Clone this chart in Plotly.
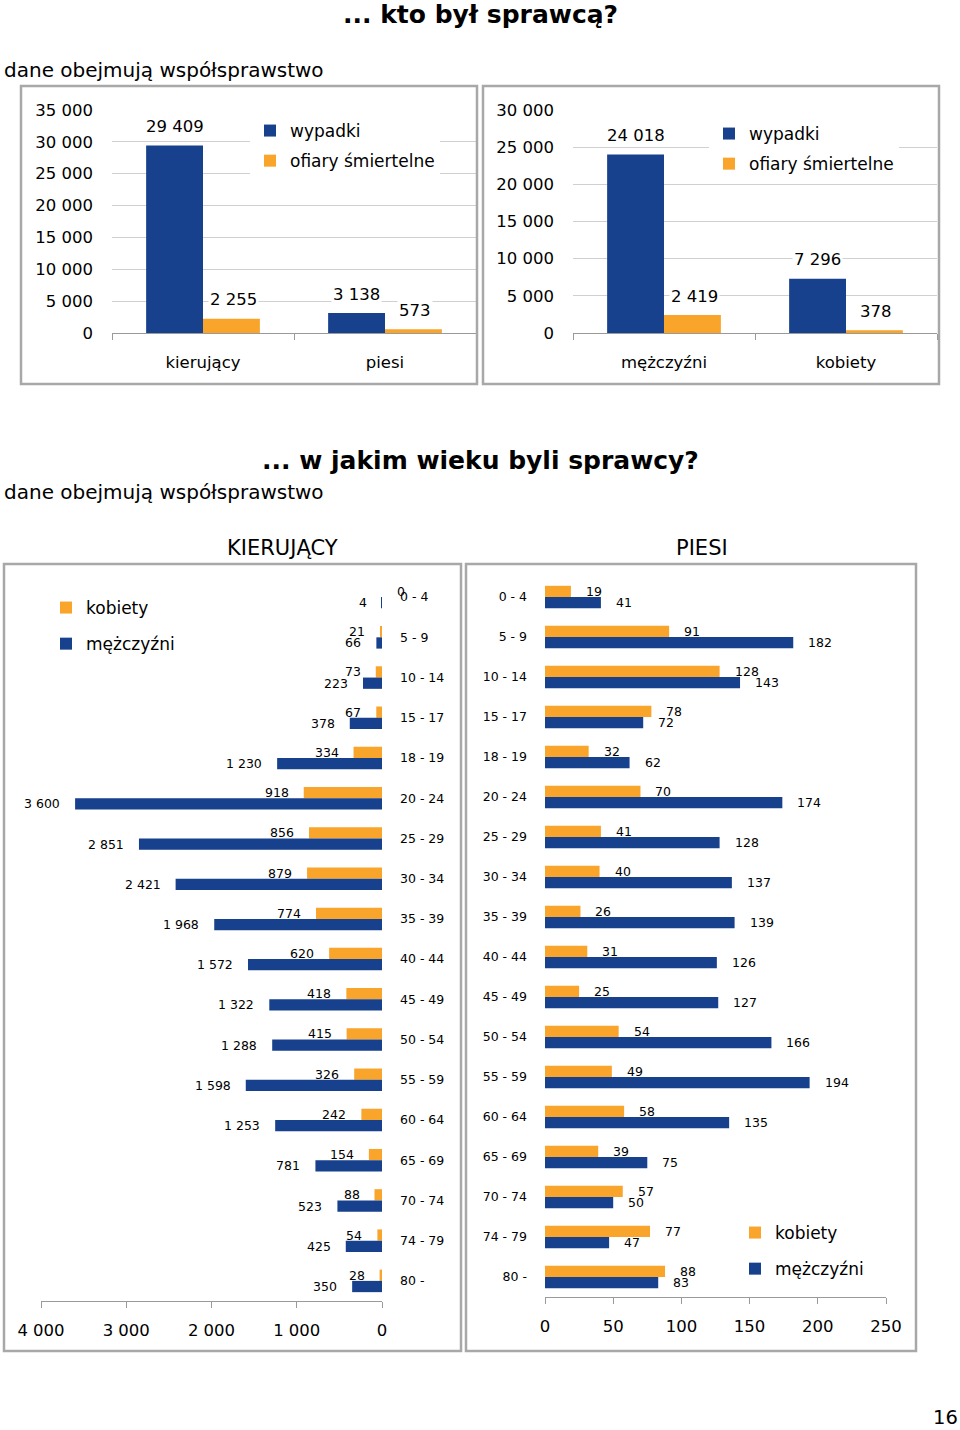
import plotly.graph_objects as go

# ---------------- data ----------------
kto_cats_a = ['kierujący', 'piesi']
kto_wypadki_a = [29409, 3138]
kto_ofiary_a = [2255, 573]

kto_cats_b = ['mężczyźni', 'kobiety']
kto_wypadki_b = [24018, 7296]
kto_ofiary_b = [2419, 378]

age_groups = ['0 - 4', '5 - 9', '10 - 14', '15 - 17', '18 - 19', '20 - 24', '25 - 29',
              '30 - 34', '35 - 39', '40 - 44', '45 - 49', '50 - 54', '55 - 59', '60 - 64',
              '65 - 69', '70 - 74', '74 - 79', '80 -']
kier_kobiety = [0, 21, 73, 67, 334, 918, 856, 879, 774, 620, 418, 415, 326, 242, 154, 88, 54, 28]
kier_mezczyzni = [4, 66, 223, 378, 1230, 3600, 2851, 2421, 1968, 1572, 1322, 1288, 1598, 1253, 781, 523, 425, 350]
piesi_kobiety = [19, 91, 128, 78, 32, 70, 41, 40, 26, 31, 25, 54, 49, 58, 39, 57, 77, 88]
piesi_mezczyzni = [41, 182, 143, 72, 62, 174, 128, 137, 139, 126, 127, 166, 194, 135, 75, 50, 47, 83]

# ---------------- style ----------------
W, H = 960, 1430
BLUE = '#17418C'
ORANGE = '#F9A42B'
GRID = '#D0D0D0'
AXIS = '#9A9A9A'
BOX = '#A8A8A8'
FONT = 'DejaVu Sans'


def px(x):
    return x / W


def py(y):
    return 1 - y / H


def fmt(v):
    return f"{v:,}".replace(",", " ")


fig = go.Figure()

# ---------- top charts ----------
BW = 0.3125
top_specs = [
    ('x', 'y', kto_cats_a, kto_wypadki_a, kto_ofiary_a, 'legend'),
    ('x2', 'y2', kto_cats_b, kto_wypadki_b, kto_ofiary_b, 'legend2'),
]
for xa, ya, cats, wyp, ofi, leg in top_specs:
    fig.add_trace(go.Bar(x=cats, y=wyp, name='wypadki', marker_color=BLUE,
                         width=BW, offset=-BW, xaxis=xa, yaxis=ya, legend=leg,
                         legendgroup=leg + 'a', hoverinfo='skip'))
    fig.add_trace(go.Bar(x=cats, y=ofi, name='ofiary śmiertelne', marker_color=ORANGE,
                         width=BW, offset=0, xaxis=xa, yaxis=ya, legend=leg,
                         legendgroup=leg + 'b', hoverinfo='skip'))
    for c, v in zip(cats, wyp):
        fig.add_annotation(x=c, y=v, xref=xa, yref=ya, text=fmt(v), showarrow=False,
                           xshift=-28.5, yshift=19, bgcolor='white',
                           font=dict(size=16.5, color='black', family=FONT))
    for c, v in zip(cats, ofi):
        fig.add_annotation(x=c, y=v, xref=xa, yref=ya, text=fmt(v), showarrow=False,
                           xshift=30, yshift=19, bgcolor='white',
                           font=dict(size=16.5, color='black', family=FONT))

# ---------- bottom charts ----------
HB = 0.28
bottom_specs = [
    ('x3', 'y3', kier_kobiety, kier_mezczyzni, 'legend3', 'right', -13),
    ('x4', 'y4', piesi_kobiety, piesi_mezczyzni, 'legend4', 'left', 13),
]
for xa, ya, kob, mez, leg, anch, xs in bottom_specs:
    fig.add_trace(go.Bar(y=age_groups, x=kob, orientation='h', name='kobiety',
                         marker_color=ORANGE, width=HB, offset=-HB, xaxis=xa, yaxis=ya,
                         legend=leg, legendgroup=leg + 'a', hoverinfo='skip'))
    fig.add_trace(go.Bar(y=age_groups, x=mez, orientation='h', name='mężczyźni',
                         marker_color=BLUE, width=HB, offset=0, xaxis=xa, yaxis=ya,
                         legend=leg, legendgroup=leg + 'b', hoverinfo='skip'))
    for c, v in zip(age_groups, kob):
        a, s = (anch, xs) if v != 0 else ('left', 13)
        fig.add_annotation(x=v, y=c, xref=xa, yref=ya, text=fmt(v), showarrow=False,
                           xanchor=a, xshift=s, yshift=5.6,
                           font=dict(size=12.5, color='black', family=FONT))
    for c, v in zip(age_groups, mez):
        fig.add_annotation(x=v, y=c, xref=xa, yref=ya, text=fmt(v), showarrow=False,
                           xanchor=anch, xshift=xs, yshift=-5.6,
                           font=dict(size=12.5, color='black', family=FONT))

tickfont_big = dict(size=16.5, color='black', family=FONT)
tickfont_small = dict(size=12.5, color='black', family=FONT)

top_y_dom = [py(333), py(110)]
cat_axis = dict(type='category', showline=True, linecolor=AXIS, linewidth=1,
                ticks='outside', tickson='boundaries', ticklen=6, tickcolor=AXIS,
                showgrid=False, zeroline=False, tickfont=tickfont_big,
                ticklabelstandoff=14, fixedrange=True, automargin=False)
val_axis = dict(showgrid=True, gridcolor=GRID, gridwidth=1, zeroline=False,
                showline=False, tickformat=',d', dtick=5000, tickfont=tickfont_big,
                ticks='', ticklabelstandoff=18, fixedrange=True, automargin=False)

fig.update_layout(
    xaxis=dict(domain=[px(112), px(476)], anchor='y', **cat_axis),
    yaxis=dict(domain=top_y_dom, anchor='x', range=[0, 35000], **val_axis),
    xaxis2=dict(domain=[px(573), px(937)], anchor='y2', **cat_axis),
    yaxis2=dict(domain=top_y_dom, anchor='x2', range=[0, 30000], **val_axis),
    xaxis3=dict(domain=[px(41), px(382)], anchor='y3', range=[4000, 0], dtick=1000,
                tickformat=',d', showline=True, linecolor=AXIS, ticks='outside',
                ticklen=6, tickcolor=AXIS, showgrid=False, zeroline=False,
                tickfont=tickfont_big, ticklabelstandoff=8, fixedrange=True,
                automargin=False),
    yaxis3=dict(domain=[py(1301), py(577)], anchor='x3', type='category',
                autorange='reversed', side='right', showline=False, ticks='',
                showgrid=False, zeroline=False, tickfont=tickfont_small,
                ticklabelstandoff=17, fixedrange=True, automargin=False),
    xaxis4=dict(domain=[px(545), px(886)], anchor='y4', range=[0, 250], dtick=50,
                showline=True, linecolor=AXIS, ticks='outside', ticklen=6,
                tickcolor=AXIS, showgrid=False, zeroline=False,
                tickfont=tickfont_big, ticklabelstandoff=8, fixedrange=True,
                automargin=False),
    yaxis4=dict(domain=[py(1297), py(577)], anchor='x4', type='category',
                autorange='reversed', showline=False, ticks='', showgrid=False,
                zeroline=False, tickfont=tickfont_small, ticklabelstandoff=17,
                fixedrange=True, automargin=False),
)

leg_common = dict(bgcolor='white', borderwidth=0, xanchor='left', yanchor='top',
                  traceorder='grouped', font=dict(size=17, color='black', family=FONT),
                  itemwidth=30)
fig.update_layout(
    legend=dict(x=px(250), y=py(113), tracegroupgap=5, **leg_common),
    legend2=dict(x=px(709), y=py(116), tracegroupgap=5, **leg_common),
    legend3=dict(x=px(46), y=py(590), tracegroupgap=11, **leg_common),
    legend4=dict(x=px(735), y=py(1215), tracegroupgap=11, **leg_common),
)

# ---------- texts ----------
texts = [
    ('... kto był sprawcą?', 480, 14, 25, True, 'center'),
    ('dane obejmują współsprawstwo', 2, 70, 20, False, 'left'),
    ('... w jakim wieku byli sprawcy?', 480, 461, 25, True, 'center'),
    ('dane obejmują współsprawstwo', 2, 492, 20, False, 'left'),
    ('KIERUJĄCY', 282, 548, 21, False, 'center'),
    ('PIESI', 702, 548, 21, False, 'center'),
    ('16', 945, 1417, 19.5, False, 'center'),
]
for t, x, y, s, b, a in texts:
    fig.add_annotation(x=px(x), y=py(y), xref='paper', yref='paper', showarrow=False,
                       text=f'<b>{t}</b>' if b else t, xanchor=a, yanchor='middle',
                       font=dict(size=s, color='black', family=FONT))

# ---------- boxes ----------
boxes = [(21, 86, 477, 384), (483, 86, 939, 384), (4, 564, 461, 1351), (466, 564, 916, 1351)]
for x0, y0, x1, y1 in boxes:
    fig.add_shape(type='rect', xref='paper', yref='paper', x0=px(x0), x1=px(x1),
                  y0=py(y1), y1=py(y0), line=dict(color=BOX, width=2.5), layer='above')

fig.update_layout(
    template='none',
    width=W, height=H, margin=dict(l=0, r=0, t=0, b=0, autoexpand=False),
    paper_bgcolor='white', plot_bgcolor='white', barmode='group',
    separators=', ', font=dict(family=FONT, color='black'),
)

fig.write_html(
    'out.html',
    config={'displayModeBar': False},
    post_script="document.body.style.margin='0';document.body.style.padding='0';"
                "document.documentElement.style.overflow='hidden';",
)
